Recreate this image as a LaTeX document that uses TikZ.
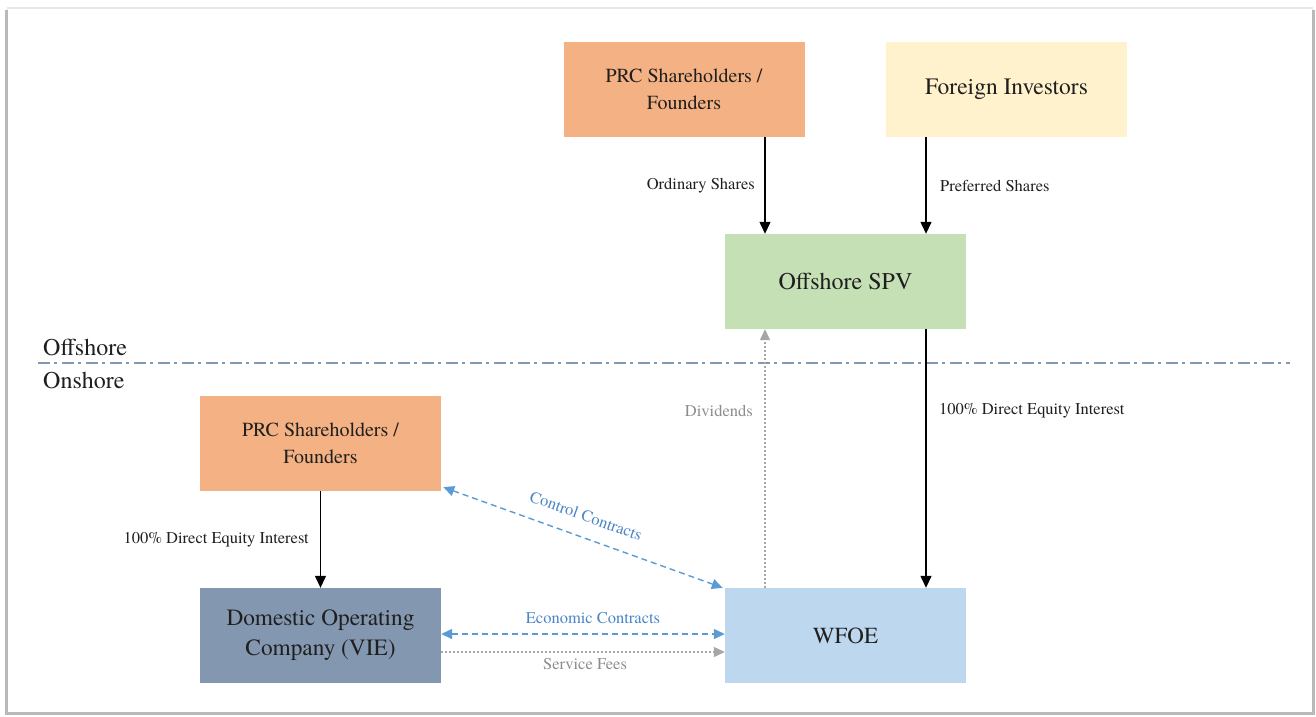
\documentclass[tikz,border=0pt]{standalone}
\usepackage{fontspec}
\setmainfont{texgyretermes}[Extension=.otf, UprightFont=*-regular, BoldFont=*-bold]
\usetikzlibrary{arrows.meta,calc}
\definecolor{prcfill}{HTML}{F4B183}
\definecolor{forfill}{HTML}{FFF2CC}
\definecolor{spvfill}{HTML}{C5E0B4}
\definecolor{viefill}{HTML}{8497B0}
\definecolor{wfoefill}{HTML}{BDD7EE}
\definecolor{ctrblue}{HTML}{5B9BD5}
\definecolor{ctrtext}{HTML}{4A86C8}
\definecolor{dotgray}{HTML}{A6A6A6}
\definecolor{labgray}{HTML}{8C8C8C}
\definecolor{ink}{HTML}{1F1F1F}
\definecolor{borderline}{HTML}{8497B0}
\tikzset{
  entity/.style={rectangle, minimum width=241pt, minimum height=95pt, inner sep=0pt,
    align=center, text=ink},
  own/.style={draw=black, line width=1.3pt, -{Triangle[length=12pt,width=11pt]}},
  contract/.style={draw=ctrblue, line width=1.4pt, dash pattern=on 6pt off 4pt,
    {Triangle[length=11pt,width=10pt]}-{Triangle[length=11pt,width=10pt]}},
  flowdot/.style={draw=dotgray, line width=1.3pt, dash pattern=on 1.5pt off 2.5pt,
    -{Triangle[length=11pt,width=10pt]}},
  lab/.style={font=\fontsize{16.5}{19}\selectfont, text=ink, inner sep=0pt},
}
\begin{document}
\begin{tikzpicture}[x=1pt, y=-1pt]
% page with its edge shadow
\useasboundingbox (0,0) rectangle (1316,716);
\fill[gray!55] (5,10) rectangle (1315,715);
\fill[gray!18] (7,7) rectangle (1313,10);
\fill[white] (8,9) rectangle (1312,712);

% offshore / onshore divider
\draw[borderline, line width=2pt, dash pattern=on 12pt off 4pt on 3pt off 5pt] (38,363) -- (1290,363);
\node[anchor=base west, inner sep=0pt, font=\fontsize{24}{28}\selectfont, text=ink] (offl) at (43,355) {Offshore};
\node[anchor=base west, inner sep=0pt, font=\fontsize{24}{28}\selectfont, text=ink] (onl) at (43,388) {Onshore};

% entities
\node[entity, fill=prcfill, font=\fontsize{20}{27}\selectfont] (prctop) at (684,89.5) {PRC Shareholders /\\Founders};
\node[entity, fill=forfill, font=\fontsize{23.5}{28}\selectfont] (foreign) at (1006.5,89.5) {Foreign Investors};
\node[entity, fill=spvfill, font=\fontsize{24}{28}\selectfont] (spv) at (845.5,281.5) {Offshore SPV};
\node[entity, fill=prcfill, font=\fontsize{20}{27}\selectfont] (prclow) at (320.5,443.5) {PRC Shareholders /\\Founders};
\node[entity, fill=viefill, font=\fontsize{23.3}{30}\selectfont] (vie) at (320.5,635.5) {Domestic Operating\\Company (VIE)};
\node[entity, fill=wfoefill, font=\fontsize{23}{28}\selectfont] (wfoe) at (845.5,635.5) {WFOE};

% anchor columns on the SPV / WFOE
\coordinate (spvl) at ([xshift=-80.5pt]spv.north);
\coordinate (spvr) at ([xshift=80.5pt]spv.north);

% shareholding
\draw[own] (spvl |- prctop.south) -- (spvl);
\draw[own] (spvr |- foreign.south) -- (spvr);
\draw[own] (spvr |- spv.south) -- (spvr |- wfoe.north);
\draw[own] (prclow.south) -- (vie.north);

\node[lab, anchor=east] (ordl) at (755,186) {Ordinary Shares};
\node[lab, anchor=west] (prefl) at (940,186) {Preferred Shares};
\node[lab, anchor=west] (eqtop) at (939,411) {100\% Direct Equity Interest};
\node[lab, anchor=east] (eqlow) at (309,540) {100\% Direct Equity Interest};

% dividends
\draw[flowdot] (spvl |- wfoe.north) -- (spvl |- spv.south);
\node[lab, anchor=east, text=labgray] (divl) at (753,411) {Dividends};

% contractual arrangements
\coordinate (cstart) at ([shift={(2,-4)}]prclow.south east);
\coordinate (cend) at ([shift={(-2,0)}]wfoe.north west);
\draw[contract] (cstart) -- (cend);
\node[lab, text=ctrtext, rotate=-19.8] (ctrl) at (586,516) {Control Contracts};

\coordinate (econ) at ([yshift=1.5pt]vie.east);
\draw[contract] (econ) -- (econ -| wfoe.west);
\node[lab, text=ctrtext] (econl) at (593,618) {Economic Contracts};

\coordinate (svc) at ([yshift=-16.5pt]vie.east);
\draw[flowdot] (svc) -- (svc -| wfoe.west);
\node[lab, text=labgray] (svcl) at (585,664) {Service Fees};
\end{tikzpicture}
\end{document}
